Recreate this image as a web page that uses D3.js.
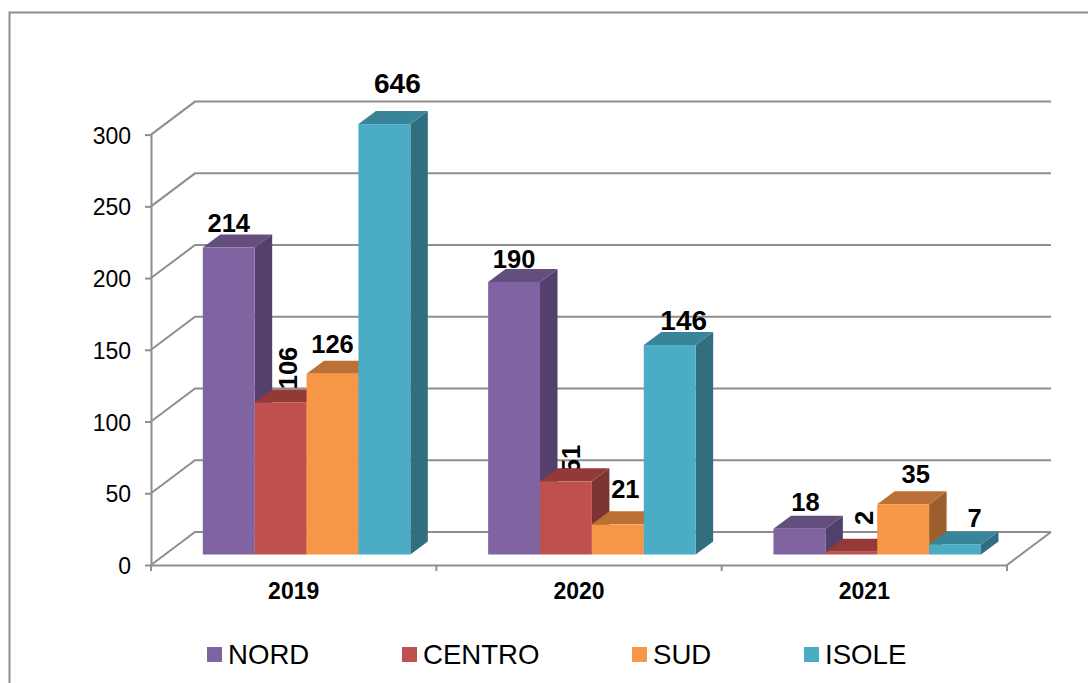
<!DOCTYPE html>
<html>
<head>
<meta charset="utf-8">
<script src="https://cdn.jsdelivr.net/npm/d3@7"></script>
<style>
  html, body { margin: 0; padding: 0; background: #fff; }
  svg { display: block; font-family: "Liberation Sans", Arial, sans-serif; }
</style>
</head>
<body>
<div id="graph_draw"></div>
<script>
// chart data
var years = ["2019", "2020", "2021"];
var regions = ["NORD", "CENTRO", "SUD", "ISOLE"];
var nord = [214, 190, 18];
var centro = [106, 51, 2];
var sud = [126, 21, 35];
var isole = [646, 146, 7];
var yTicks = [0, 50, 100, 150, 200, 250, 300];

var seriesValues = [nord, centro, sud, isole];

// front, top, side colour of each region
var colors = {
    NORD:   ["#8064a2", "#644e7e", "#54406c"],
    CENTRO: ["#c0504d", "#933a38", "#7d3331"],
    SUD:    ["#f79646", "#bb7035", "#9c5e2c"],
    ISOLE:  ["#4bacc6", "#3a8499", "#316e80"]
};

var width = 1088, height = 683;
var gridColor = "#8e8e8e";

// 3d look: the wall sits wallDx/wallDy behind the front axis, bars stand inside that depth
var wallDx = 44, wallDy = -33;
var barDx = 12.9, barDy = -10.5;
var depthDx = 17.5, depthDy = -13;

var svg = d3.select("#graph_draw").append("svg")
    .attr("width", width)
    .attr("height", height);

// outer frame runs off the right and the bottom of the picture
svg.append("path")
    .attr("d", "M9.5," + height + "V12.5H" + width)
    .attr("fill", "none")
    .attr("stroke", gridColor)
    .attr("stroke-width", 2);

var x = d3.scaleBand().domain(years).range([151, 1007]);
var y = d3.scaleLinear().domain([0, 300]).range([565, 134.6]).clamp(true); // 646 is cut at the top of the axis
// gap between the groups is 1.5 bars
var xBar = d3.scaleBand().domain(regions).range([0, x.bandwidth()]).paddingOuter(0.75).paddingInner(0);

// back wall and the slanted lines
var grid = svg.append("g")
    .attr("fill", "none")
    .attr("stroke", gridColor)
    .attr("stroke-width", 2);

yTicks.forEach(function(t) {
    grid.append("polyline").attr("points", [
        [151, y(t)],
        [151 + wallDx, y(t) + wallDy],
        [x.range()[1] + wallDx, y(t) + wallDy]
    ].join(" "));
});
// right edge of the floor
grid.append("line")
    .attr("x1", x.range()[1]).attr("y1", y(0))
    .attr("x2", x.range()[1] + wallDx).attr("y2", y(0) + wallDy);

// the labels that Excel rotated sit behind the bars
var labelTweak = {
    "NORD2019":   {dx: 0,    dy: -15.5},
    "CENTRO2019": {rotate: true, px: 297, py: 368},
    "SUD2019":    {dx: 0,    dy: -21},
    "ISOLE2019":  {dx: 13,   dy: -31, size: 28},
    "NORD2020":   {dx: 0,    dy: -14},
    "CENTRO2020": {rotate: true, px: 580, py: 459},
    "SUD2020":    {dx: 7.5,  dy: -26},
    "ISOLE2020":  {dx: 14,   dy: -15, size: 28},
    "NORD2021":   {dx: 6,    dy: -18},
    "CENTRO2021": {rotate: true, px: 873, py: 518},
    "SUD2021":    {dx: 12.5, dy: -21},
    "ISOLE2021":  {dx: 19.5, dy: -17.5}
};

var rotatedLabels = svg.append("g");
var barsLayer = svg.append("g");
var flatLabels = svg.append("g");

years.forEach(function(year, i) {
    regions.forEach(function(region, j) {
        var v = seriesValues[j][i];
        var x0 = x(year) + xBar(region) + barDx;
        var x1 = x0 + xBar.bandwidth();
        var y0 = y(0) + barDy;
        var yTop = y(v) + barDy;
        var c = colors[region];

        var bar = barsLayer.append("g");
        bar.append("polygon") // side
            .attr("points", [[x1, yTop], [x1 + depthDx, yTop + depthDy], [x1 + depthDx, y0 + depthDy], [x1, y0]].join(" "))
            .attr("fill", c[2]);
        bar.append("polygon") // top
            .attr("points", [[x0, yTop], [x0 + depthDx, yTop + depthDy], [x1 + depthDx, yTop + depthDy], [x1, yTop]].join(" "))
            .attr("fill", c[1]);
        bar.append("rect") // front
            .attr("x", x0)
            .attr("y", yTop)
            .attr("width", xBar.bandwidth())
            .attr("height", y0 - yTop)
            .attr("fill", c[0]);

        var tweak = labelTweak[region + year];
        if (tweak.rotate) {
            rotatedLabels.append("text")
                .attr("transform", "translate(" + tweak.px + "," + tweak.py + ") rotate(-90)")
                .attr("text-anchor", "middle")
                .style("font-size", "25.5px")
                .style("font-weight", "bold")
                .text(v);
        } else {
            flatLabels.append("text")
                .attr("x", (x0 + x1) / 2 + tweak.dx)
                .attr("y", yTop + tweak.dy)
                .attr("text-anchor", "middle")
                .style("font-size", (tweak.size || 25.5) + "px")
                .style("font-weight", "bold")
                .text(v);
        }
    });
});

// Y axis
var yAxis = svg.append("g")
    .attr("transform", "translate(151,0)")
    .call(d3.axisLeft(y).tickValues(yTicks).tickSizeInner(6).tickSizeOuter(0).tickPadding(14));
yAxis.selectAll("text").style("font-size", "23px").attr("fill", "#000").attr("dy", "0.37em");
yAxis.selectAll("path,line").attr("stroke", gridColor).attr("stroke-width", 2);

// X axis, the ticks sit between the groups so they are added by hand from the band scale
var xAxis = svg.append("g")
    .attr("transform", "translate(0," + y(0) + ")")
    .call(d3.axisBottom(x).tickSize(0).tickPadding(18));
xAxis.selectAll("text").style("font-size", "23px").style("font-weight", "bold").attr("fill", "#000");
xAxis.select(".domain").attr("stroke", gridColor).attr("stroke-width", 2);
years.concat([null]).forEach(function(year) {
    var px = year ? x(year) : x.range()[1];
    xAxis.append("line")
        .attr("x1", px).attr("x2", px)
        .attr("y1", 0).attr("y2", 6)
        .attr("stroke", gridColor)
        .attr("stroke-width", 2);
});

// legend
var legendX = {NORD: 207, CENTRO: 402, SUD: 632, ISOLE: 804};
regions.forEach(function(region) {
    svg.append("rect")
        .attr("x", legendX[region])
        .attr("y", 647)
        .attr("width", 15)
        .attr("height", 15)
        .attr("fill", colors[region][0]);
    svg.append("text")
        .attr("x", legendX[region] + 21)
        .attr("y", 664)
        .style("font-size", "27.6px")
        .text(region);
});
</script>
</body>
</html>
